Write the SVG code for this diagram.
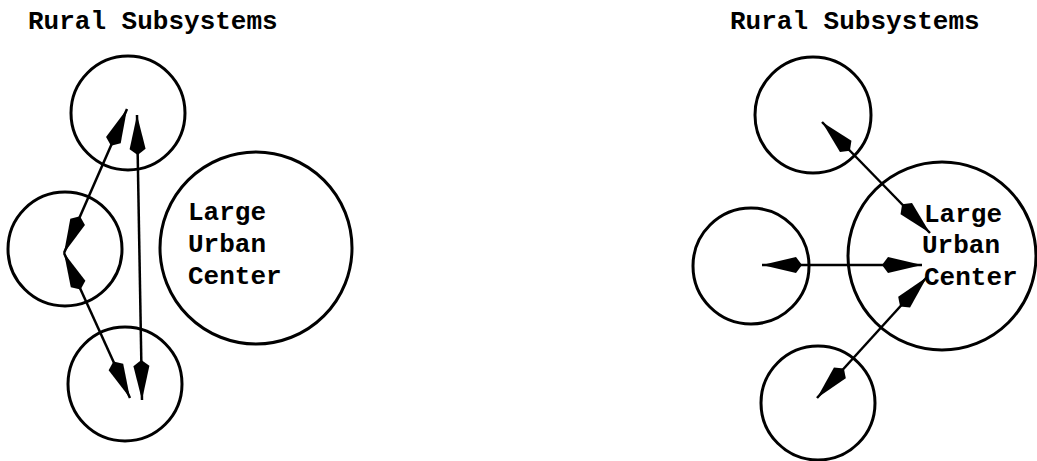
<svg xmlns="http://www.w3.org/2000/svg" width="1037" height="461" viewBox="0 0 1037 461">
<style>
.c{fill:none;stroke:#000;stroke-width:3}
.t{font-family:"Liberation Mono","Courier New",monospace;font-size:26px;font-weight:bold;fill:#000}
.a{fill:none;stroke:#000;stroke-width:2.5;marker-start:url(#h);marker-end:url(#h)}
</style>
<defs>
<marker id="h" viewBox="0 0 40 20" refX="40" refY="10" markerWidth="40" markerHeight="20" markerUnits="userSpaceOnUse" orient="auto-start-reverse" overflow="visible">
<path d="M0,10 L6,2 L40,10 L6,18 z" fill="#000"/>
</marker>
</defs>
<rect width="1037" height="461" fill="#fff"/>
<g id="left-title"><text class="t" x="28" y="29">Rural Subsystems</text></g>
<g id="left-top"><circle class="c" cx="128" cy="113" r="57"/></g>
<g id="left-middle"><circle class="c" cx="65" cy="249" r="57"/></g>
<g id="left-bottom"><circle class="c" cx="125" cy="384" r="57"/></g>
<g id="left-center"><circle class="c" cx="256" cy="248" r="96"/>
<text class="t" x="188" y="220">Large</text>
<text class="t" x="188" y="252">Urban</text>
<text class="t" x="188" y="284">Center</text></g>
<g id="right-title"><text class="t" x="730" y="29">Rural Subsystems</text></g>
<g id="right-top"><circle class="c" cx="813" cy="115" r="58"/></g>
<g id="right-middle"><circle class="c" cx="751" cy="266" r="58"/></g>
<g id="right-bottom"><circle class="c" cx="818" cy="403" r="57"/></g>
<g id="right-center"><circle class="c" cx="942" cy="256" r="94"/>
<text class="t" x="924" y="222">Large</text>
<text class="t" x="922" y="253">Urban</text>
<text class="t" x="924" y="285">Center</text></g>
<g id="connectors">
<line class="a" x1="127" y1="109" x2="64" y2="253"/>
<line class="a" x1="64" y1="253" x2="130" y2="398"/>
<line class="a" x1="137" y1="115" x2="142" y2="400"/>
<line class="a" x1="822" y1="122" x2="930" y2="233"/>
<line class="a" x1="762" y1="265" x2="922" y2="265"/>
<line class="a" x1="817" y1="398" x2="927" y2="277"/>
</g>
</svg>
